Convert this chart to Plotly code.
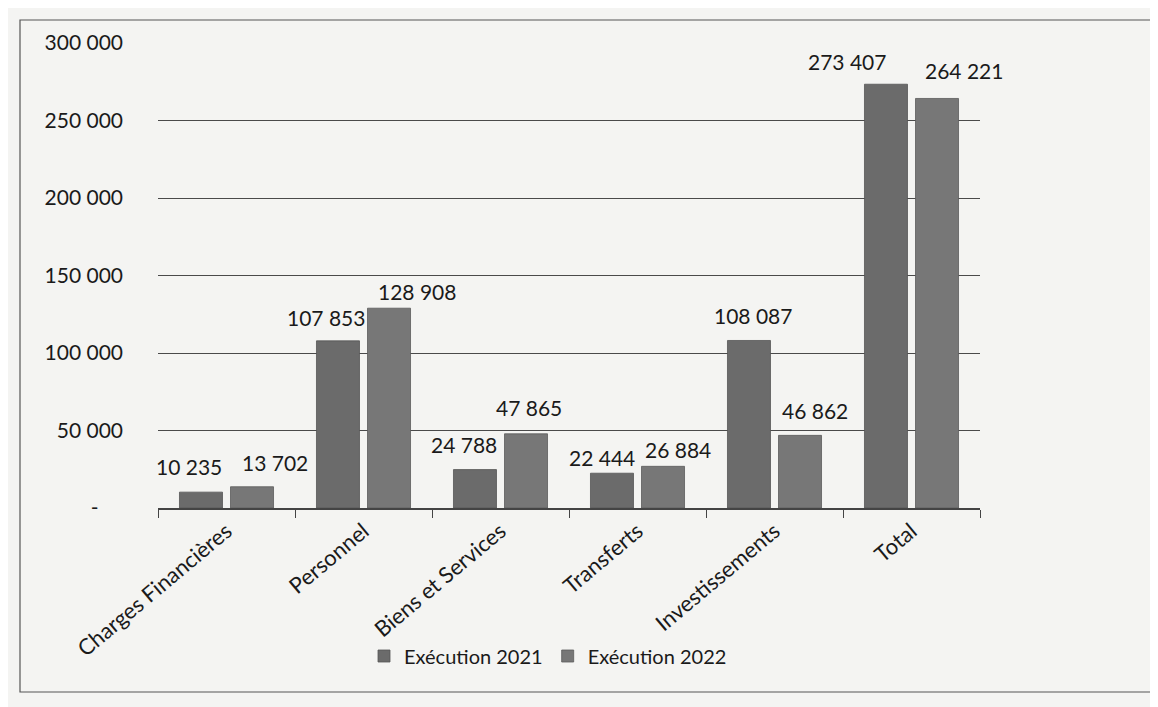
import plotly.graph_objects as go

categories = ["Charges Financières", "Personnel", "Biens et Services", "Transferts", "Investissements", "Total"]
exec_2021 = [10235, 107853, 24788, 22444, 108087, 273407]
exec_2022 = [13702, 128908, 47865, 26884, 46862, 264221]
tick_vals = [0, 50000, 100000, 150000, 200000, 250000, 300000]
tick_text = ["-\u2007\u2007", "50 000", "100 000", "150 000", "200 000", "250 000", "300 000"]

# manual label placement (pixel offsets from each bar's top-centre), as in the source chart
label_dx_2021 = [-12, -12, -11, -10, 4, -39]
label_dy_2021 = [26, 23, 25, 16, 25, 23]
label_dx_2022 = [23, 28, 3, 15, 15, 27]
label_dy_2022 = [24, 17, 26, 17, 25, 28]

def fmt(v):
    return f"{v:,}".replace(",", " ")

FONT = "Lato"
W, H = 1158, 707
ML, MR, MT, MB = 150, 186, 35, 207
pw, ph = W - ML - MR, H - MT - MB
BARGAP, GROUPGAP = 0.255, 0.157
slot = pw / len(categories) * (1 - BARGAP) / 2
bar_off = slot / 2

fig = go.Figure()
fig.add_trace(go.Bar(name="Exécution 2021", x=categories, y=exec_2021,
                     marker=dict(color="#6b6b6b", line=dict(width=0.8, color="#555"))))
fig.add_trace(go.Bar(name="Exécution 2022", x=categories, y=exec_2022,
                     marker=dict(color="#777777", line=dict(width=0.8, color="#5c5c5c"))))

annotations = []
for vals, dxs, dys, sign in [(exec_2021, label_dx_2021, label_dy_2021, -1),
                             (exec_2022, label_dx_2022, label_dy_2022, 1)]:
    for c, v, dx, dy in zip(categories, vals, dxs, dys):
        annotations.append(dict(x=c, y=v, xref="x", yref="y", text=fmt(v), showarrow=False,
                                xanchor="center", yanchor="middle",
                                xshift=sign * bar_off + dx, yshift=dy,
                                font=dict(size=21, color="#1a1a1a", family=FONT)))

def px_x(p):
    return (p - ML) / pw

def px_y(p):
    return (H - MB - p) / ph

fig.update_layout(
    width=W, height=H,
    margin=dict(l=ML, r=MR, t=MT, b=MB, autoexpand=False),
    paper_bgcolor="#f4f4f2", plot_bgcolor="#f4f4f2",
    barmode="group", bargap=BARGAP, bargroupgap=GROUPGAP,
    font=dict(family=FONT, size=16, color="#1a1a1a"),
    showlegend=True,
    legend=dict(orientation="h", x=px_x(540), y=px_y(648), xanchor="center", yanchor="middle",
                font=dict(size=20, family=FONT), bgcolor="rgba(0,0,0,0)",
                itemwidth=30, tracegroupgap=0),
    xaxis=dict(range=[-0.5, len(categories) - 0.5], autorange=False,
               tickangle=-40, tickson="boundaries", ticks="outside", ticklen=8,
               tickcolor="#444", showline=True, linecolor="#444", linewidth=1.5,
               tickfont=dict(size=22, family=FONT), showgrid=False, automargin=False),
    yaxis=dict(range=[0, 300000], autorange=False, tickvals=tick_vals, ticktext=tick_text,
               showgrid=True, gridcolor="#4a4a4a", gridwidth=1.3, zeroline=False,
               showline=False, ticks="", ticklabelstandoff=34, automargin=False,
               tickfont=dict(size=21, family=FONT)),
    annotations=annotations,
    shapes=[dict(type="rect", xref="paper", yref="paper",
                 x0=px_x(12), x1=px_x(1148), y0=px_y(684), y1=px_y(12),
                 line=dict(color="#555", width=1.2), fillcolor="rgba(0,0,0,0)", layer="below")],
)

fig.write_html("out.html")
